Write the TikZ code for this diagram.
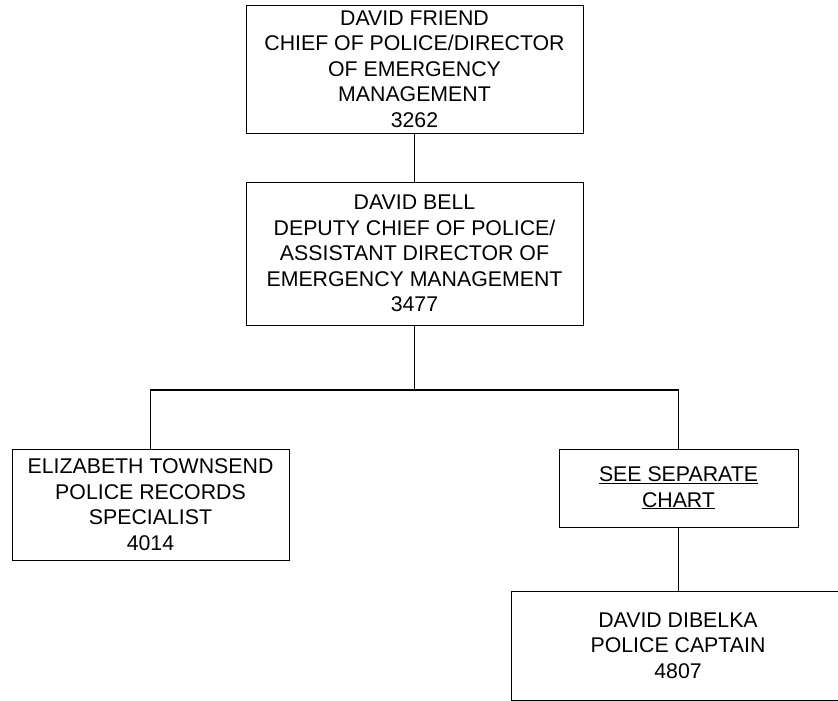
\documentclass[tikz,border=0pt]{standalone}
\usepackage{fontspec}
\setmainfont{Liberation Sans}
\begin{document}
\begin{tikzpicture}[x=1pt,y=-1pt,
  box/.style={draw, line width=0.9pt, inner sep=0pt, align=center,
    font=\fontsize{21.3}{25.5}\selectfont},
  conn/.style={line width=1.3pt}]
\clip (0,0) rectangle (838,701);
\node[box, minimum width=337pt, minimum height=128pt] (chief) at (414.5,69)
  {DAVID FRIEND\\CHIEF OF POLICE/DIRECTOR\\OF EMERGENCY\\MANAGEMENT\\3262};
\node[box, minimum width=337pt, minimum height=143pt] (deputy) at (414.5,253.5)
  {DAVID BELL\\DEPUTY CHIEF OF POLICE/\\ASSISTANT DIRECTOR OF\\EMERGENCY MANAGEMENT\\3477};
\node[box, minimum width=277pt, minimum height=111pt] (records) at (150.5,504.5)
  {ELIZABETH TOWNSEND\\POLICE RECORDS\\SPECIALIST\\4014};
\node[box, minimum width=239pt, minimum height=78pt] (sep) at (678.5,488)
  {\underline{SEE SEPARATE}\\\underline{CHART}};
\node[box, minimum width=334pt, minimum height=109pt] (captain) at (678,645.5)
  {DAVID DIBELKA\\POLICE CAPTAIN\\4807};
\coordinate (bus) at (414.5,390);
\draw[conn] (chief.south) -- (deputy.north);
\draw[conn] (deputy.south) -- (bus);
\draw[conn] (bus) -| (records.north);
\draw[conn] (bus) -| (sep.north);
\draw[conn] (sep.south) -- (sep.south |- captain.north);
\end{tikzpicture}
\end{document}
